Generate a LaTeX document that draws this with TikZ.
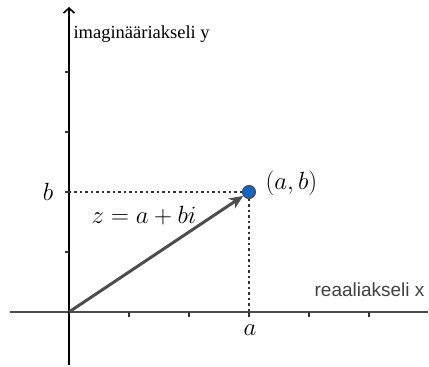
\documentclass[tikz,border=0pt]{standalone}
\usepackage{fontspec}
\newfontfamily\labserif{Liberation Serif}
\newfontfamily\labsans{Liberation Sans}
\usetikzlibrary{arrows.meta}
\definecolor{ptblue}{RGB}{21,101,192}
\definecolor{vecgray}{RGB}{77,77,77}
\tikzset{
  axisline/.style={line width=1.6pt},
  tickmark/.style={line width=1.3pt, black!80},
  guide/.style={line width=2.5pt, dash pattern=on 2.5pt off 3pt, black!80},
  vec/.style={line width=3pt, vecgray, -{Stealth[length=14pt,width=12pt]}},
  ptdot/.style={circle, fill=ptblue, draw=black!70, line width=1pt, inner sep=0pt, minimum size=13pt},
  mathlab/.style={font=\fontsize{23.5}{26}\selectfont},
}
\begin{document}
\begin{tikzpicture}[x=1pt,y=1pt]
\useasboundingbox (-69,-55) rectangle (360,312);
% axes
\draw[axisline, black!70] (-59,0) coordinate (xl) -- (359,0) coordinate (xr);
\draw[axisline, -{Straight Barb[length=5pt,width=11pt]}] (0,-53) coordinate (yb) -- (0,305) coordinate (yt);
\foreach \k in {1,...,5} \draw[tickmark] (60*\k,0) -- (60*\k,-5);
\foreach \k in {1,...,4} \draw[tickmark] (0,60*\k) -- (-4,60*\k);
% point and guides
\coordinate (O) at (0,0);
\node[ptdot] (P) at (180,120) {};
\coordinate (Py) at (0,120);
\coordinate (Px) at (180,0);
\draw[guide] (Py) -- (P.west);
\draw[guide] (P.south) -- (Px);
\draw[vec] (O) -- (P);
% labels
\node[mathlab] (bl) at (-21,120) {$b$};
\node[mathlab] (al) at (181,-18) {$a$};
\node[mathlab, anchor=west] (abl) at (193,129) {$(a,b)$};
\node[mathlab] (zl) at (75,96) {$z=a+bi$};
\node[anchor=west, font=\labserif\fontsize{18.5}{20}\selectfont] (yl) at (1,278) {imaginääriakseli y};
\node[anchor=east, font=\labsans\fontsize{19}{21}\selectfont, black!75] (xlab) at (359,22) {reaaliakseli x};
\end{tikzpicture}
\end{document}
